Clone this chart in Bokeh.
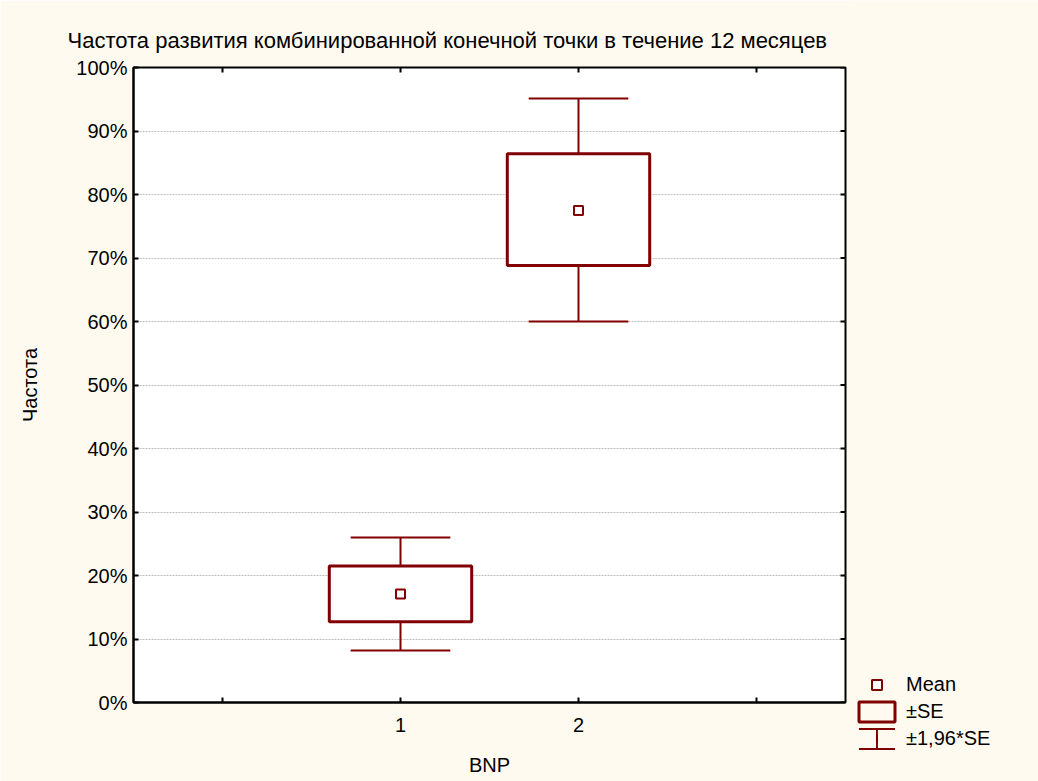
import math
from bokeh.plotting import figure
from bokeh.layouts import row
from bokeh.models import (Range1d, LinearAxis, FixedTicker, NumeralTickFormatter,
                          Legend, LegendItem, ColumnDataSource, Grid)
from bokeh.embed import file_html
from bokeh.resources import INLINE

# ---------------- data ----------------
categories = [1, 2]
mean_vals = [0.171, 0.775]
se_low = [0.127, 0.688]
se_high = [0.215, 0.864]
ci_low = [0.082, 0.600]
ci_high = [0.260, 0.951]

x_ticks = [0, 1, 2, 3]
x_label_ticks = [1, 2]
y_ticks = [0.0, 0.1, 0.2, 0.3, 0.4, 0.5, 0.6, 0.7, 0.8, 0.9, 1.0]
legend_labels = ["Mean", "±SE", "±1,96*SE"]
title_text = "Частота развития комбинированной конечной точки в течение 12 месяцев"
x_label = "BNP"
y_label = "Частота"

# legend-only anchor (outside visible ranges, used only for the legend keys)
legend_anchor_x = [-10.0]
legend_anchor_y = [-10.0]

# ---------------- style ----------------
DARK_RED = "#800000"
BG = "#FFFAF0"
FONT = "Liberation Sans"
BOX_HALF = 0.4
CAP_HALF = 0.28
X_START, X_END = -0.5, 3.5
Y_START, Y_END = 0.0, 1.0

src = ColumnDataSource(dict(
    x=categories, mean=mean_vals, lo=se_low, hi=se_high, clo=ci_low, chi=ci_high,
    left=[c - BOX_HALF for c in categories], right=[c + BOX_HALF for c in categories],
    cl=[c - CAP_HALF for c in categories], cr=[c + CAP_HALF for c in categories],
))
leg_src = ColumnDataSource(dict(
    x=legend_anchor_x, y=legend_anchor_y,
    l=[v - 1 for v in legend_anchor_x], r=[v + 1 for v in legend_anchor_x],
    b=[v - 1 for v in legend_anchor_y], t=[v + 1 for v in legend_anchor_y],
))

# ---------------- main chart ----------------
p = figure(width=853, height=781, x_range=Range1d(X_START, X_END), y_range=Range1d(Y_START, Y_END),
           output_backend="svg", toolbar_location=None,
           x_axis_type=None, y_axis_type=None,
           min_border_left=133, min_border_right=8, min_border_top=67, min_border_bottom=79,
           background_fill_color="white", border_fill_color=BG,
           outline_line_color="black", outline_line_width=2)
p.frame_align = False

p.title.text = title_text
p.title.align = "left"
p.title.offset = -66
p.title.text_font = FONT
p.title.text_font_size = "22px"
p.title.text_font_style = "normal"
p.title.text_color = "black"
p.title.standoff = 30

y_ticker = FixedTicker(ticks=y_ticks)


def style_axis(ax):
    ax.axis_line_color = "black"
    ax.axis_line_width = 2
    ax.major_tick_in = 5
    ax.major_tick_out = 0
    ax.major_tick_line_color = "black"
    ax.major_tick_line_width = 2
    ax.minor_tick_in = 0
    ax.minor_tick_out = 0
    ax.major_label_text_font = FONT
    ax.major_label_text_color = "black"
    ax.major_label_text_font_size = "20px"
    ax.axis_label_text_font = FONT
    ax.axis_label_text_font_size = "20px"
    ax.axis_label_text_font_style = "normal"
    ax.axis_label_text_color = "black"


xb = LinearAxis(ticker=FixedTicker(ticks=x_label_ticks), axis_label=x_label)
style_axis(xb)
xb.major_label_standoff = 15
xb.axis_label_standoff = 19
p.add_layout(xb, "below")

yl = LinearAxis(ticker=y_ticker, formatter=NumeralTickFormatter(format="0%"), axis_label=y_label)
style_axis(yl)
yl.major_label_standoff = 6
yl.axis_label_standoff = 32
p.add_layout(yl, "left")

p.add_layout(Grid(dimension=1, ticker=y_ticker, grid_line_color="#bdbdbd",
                  grid_line_dash="2 1", grid_line_width=1))

# inward tick marks on the remaining frame sides (top, right, bottom ends)
TICK = dict(length=5, length_units="screen", line_color="black", line_width=2)
p.ray(x=x_ticks, y=[Y_END] * len(x_ticks), angle=-math.pi / 2, **TICK)
p.ray(x=[X_END] * len(y_ticks), y=y_ticks, angle=math.pi, **TICK)
edge_x = [t for t in x_ticks if t not in x_label_ticks]
p.ray(x=edge_x, y=[Y_START] * len(edge_x), angle=math.pi / 2, **TICK)

p.segment(x0="x", y0="clo", x1="x", y1="chi", source=src, line_color=DARK_RED, line_width=2)
p.quad(left="left", right="right", top="hi", bottom="lo", source=src,
       fill_color="white", line_alpha=0)
p.quad(left="left", right="right", top="hi", bottom="lo", source=src,
       fill_alpha=0, line_color=DARK_RED, line_width=3)
p.segment(x0="cl", y0="clo", x1="cr", y1="clo", source=src, line_color=DARK_RED, line_width=2)
p.segment(x0="cl", y0="chi", x1="cr", y1="chi", source=src, line_color=DARK_RED, line_width=2)
p.scatter(x="x", y="mean", source=src, marker="square", size=9,
          fill_color="white", line_color=DARK_RED, line_width=2)

# ---------------- legend panel ----------------
lg = figure(width=185, height=781, x_range=Range1d(0, 1), y_range=Range1d(0, 1),
            output_backend="svg", toolbar_location=None, title=None,
            x_axis_type=None, y_axis_type=None,
            min_border_left=0, min_border_right=0, min_border_top=0, min_border_bottom=0,
            background_fill_color=BG, border_fill_color=BG, outline_line_color=None)
lg.frame_align = False

k_mean = lg.scatter(x="x", y="y", source=leg_src, marker="square", size=9,
                    fill_color="white", line_color=DARK_RED, line_width=2)
k_box = lg.quad(left="l", right="r", top="t", bottom="b", source=leg_src,
                fill_alpha=0, line_color=DARK_RED, line_width=3)
k_bars = lg.quad(left="l", right="r", top="t", bottom="b", source=leg_src,
                 fill_alpha=0, line_color=DARK_RED, line_width=2, line_dash="36 20")
k_stem = lg.ellipse(x="x", y="y", width=0.1, height=20, width_units="screen",
                    height_units="screen", source=leg_src,
                    fill_alpha=0, line_color=DARK_RED, line_width=2)

legend = Legend(items=[
    LegendItem(label=legend_labels[0], renderers=[k_mean]),
    LegendItem(label=legend_labels[1], renderers=[k_box]),
    LegendItem(label=legend_labels[2], renderers=[k_bars, k_stem]),
], location=(1, 30), orientation="vertical",
    glyph_width=45, glyph_height=25, spacing=2, padding=0, margin=0,
    label_standoff=7, border_line_alpha=0, background_fill_alpha=0,
    label_text_font=FONT, label_text_font_size="20px", label_text_color="black")
lg.add_layout(legend)

layout = row(p, lg)
open("out.html", "w").write(file_html(layout, INLINE))
